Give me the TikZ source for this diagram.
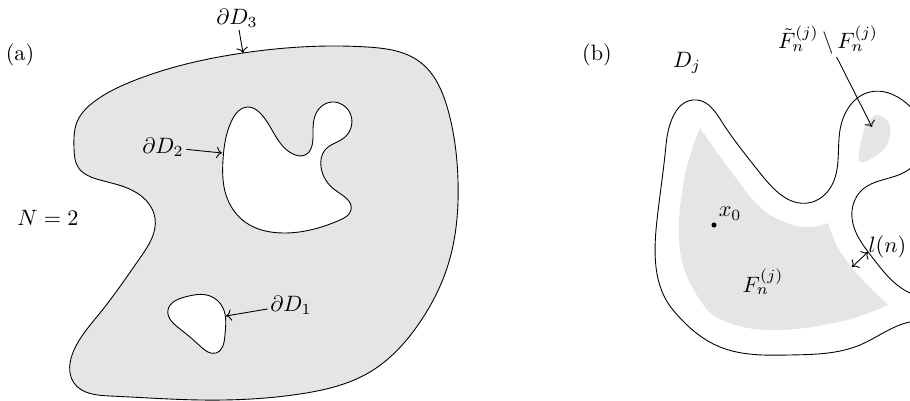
\documentclass[tikz,border=0pt]{standalone}
\usepackage{amsmath,amssymb}
\usetikzlibrary{arrows.meta,hobby}

\begin{document}
\begin{tikzpicture}[>=To,x=0.45pt,y=-0.45pt,use Hobby shortcut]
\tikzset{
	region/.style={draw,fill=black!10,thin},
	hole/.style={draw,fill=white,thin},
	core/.style={fill=black!10},
	lbl/.style={inner sep=1pt},
	pointer/.style={->,thin}
}
\useasboundingbox (0,0) rectangle (910,401);

% (a) domain with two holes
\node[lbl] (tagA) at (20,55) {(a)};
\draw[region,closed=true] (74,148) .. (77,122) .. (95,101) .. (133,81) .. (243,53)
	.. (367,47) .. (420,62) .. (448,110) .. (458,180) .. (448,265) .. (418,325)
	.. (370,372) .. (300,394) .. (200,400) .. (110,396) .. (74,383)
	.. (74,350) .. (100,313) .. (140,258) .. (155,218) .. (137,193)
	.. (100,180) .. (78,167);
\draw[hole,closed=true] (223,160) .. (232,120) .. (247,107) .. (262,115)
	.. (293,154) .. (305,155) .. (313,135) .. (318,110) .. (332,102)
	.. (350,113) .. (345,137) .. (325,150) .. (321,167) .. (335,190)
	.. (351,210) .. (340,220) .. (283,233) .. (245,222) .. (226,195);
\draw[hole,closed=true] (168,310) .. (185,297) .. (210,296) .. (223,308)
	.. (225,335) .. (216,353) .. (200,346) .. (180,329);

\node[lbl] (N) at (48,218) {$N=2$};
\node[lbl] (dDthree) at (237,18) {$\partial D_3$};
\node[lbl] (dDtwo) at (163,147) {$\partial D_2$};
\node[lbl] (dDone) at (291,305) {$\partial D_1$};
\coordinate (tipthree) at (243,53);
\coordinate (tiptwo) at (222,153);
\coordinate (tipone) at (226,316);
\draw[pointer] (dDthree) -- (tipthree);
\draw[pointer] (dDtwo) -- (tiptwo);
\draw[pointer] (dDone) -- (tipone);

% (b) one component D_j
\node[lbl] (tagB) at (597,55) {(b)};
\node[lbl] (Dj) at (687,63) {$D_j$};
\begin{scope}
\clip (560,0) rectangle (910,401);
\fill[core] plot[smooth, tension=0.7] coordinates {
	(700,128) (684,180) (680,250) (700,300) (727,322) (777,330)
	(843,321) (888,305)}
	-- plot[smooth] coordinates {(888,305) (858,275) (838,248) (828,223)}
	-- plot[smooth, tension=0.7] coordinates {(828,223) (810,227) (787,223) (760,207)
	(730,170) (700,128)} -- cycle;
\fill[core] plot[smooth cycle, tension=0.6] coordinates {
	(860,162) (863,133) (870,120) (878,115) (890,125) (885,148)};
\draw[thin,closed=true] (657,220) .. (666,145) .. (697,100) .. (722,122)
	.. (760,173) .. (808,203) .. (832,185) .. (840,130) .. (870,92)
	.. (905,102) .. (925,140) .. (905,172) .. (862,190) .. (852,218)
	.. (872,257) .. (910,293) .. (928,312) .. (910,322) .. (860,345)
	.. (790,355) .. (720,347) .. (673,310);
\end{scope}

\node[circle,fill,inner sep=0.8pt] (xzero) at (714,225) {};
\node[lbl,anchor=south west] (xlbl) at (xzero.north east) {$x_0$};
\node[lbl] (Fn) at (763,282) {$F_n^{(j)}$};
\node[lbl] (Fdiff) at (828,40) {$\tilde F_n^{(j)}\,\backslash\, F_n^{(j)}$};
\node[lbl,anchor=west] (ln) at (866,247) {$l(n)$};
\coordinate (tipdiff) at (872,127);
\coordinate (lnA) at (852,267);
\coordinate (lnB) at (868,252);
\draw[pointer] (Fdiff) -- (tipdiff);
\draw[<->,thin] (lnA) -- (lnB);
\end{tikzpicture}
\end{document}
